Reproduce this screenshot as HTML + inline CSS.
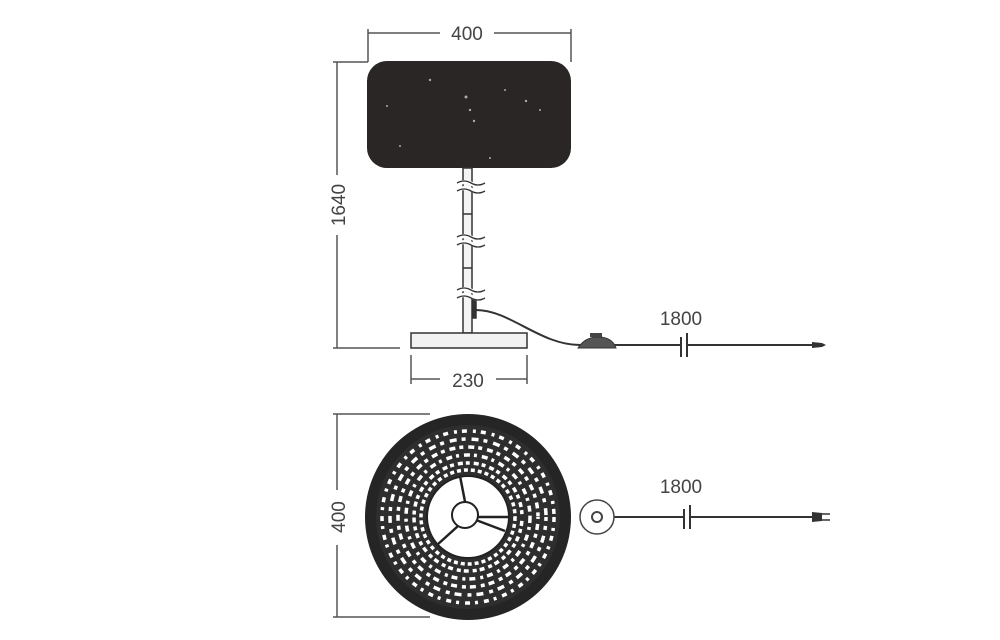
<!DOCTYPE html>
<html><head><style>html,body{margin:0;padding:0;background:#fff;width:1000px;height:640px;overflow:hidden}
text{font-family:"Liberation Sans",sans-serif;font-size:19px;fill:#444}</style></head>
<body>
<svg width="1000" height="640" viewBox="0 0 1000 640" xmlns="http://www.w3.org/2000/svg">
<g stroke="#555" stroke-width="1.5" fill="none">
<line x1="368" y1="29" x2="368" y2="62"/><line x1="571" y1="29" x2="571" y2="62"/>
<line x1="368" y1="33" x2="440" y2="33"/><line x1="494" y1="33" x2="571" y2="33"/>
<line x1="333" y1="62" x2="368" y2="62"/><line x1="333" y1="348" x2="400" y2="348"/>
<line x1="337" y1="62" x2="337" y2="175"/><line x1="337" y1="235" x2="337" y2="348"/>
<line x1="411" y1="355" x2="411" y2="384"/><line x1="527" y1="355" x2="527" y2="384"/>
<line x1="411" y1="379" x2="440" y2="379"/><line x1="496" y1="379" x2="527" y2="379"/>
<line x1="333" y1="414" x2="430" y2="414"/><line x1="333" y1="617" x2="430" y2="617"/>
<line x1="337" y1="414" x2="337" y2="490"/><line x1="337" y1="545" x2="337" y2="617"/>
</g>
<text x="467" y="40" text-anchor="middle">400</text>
<text x="468" y="387" text-anchor="middle">230</text>
<text transform="translate(345,205) rotate(-90)" text-anchor="middle">1640</text>
<text transform="translate(345,517) rotate(-90)" text-anchor="middle">400</text>
<text x="681" y="325" text-anchor="middle">1800</text>
<text x="681" y="493" text-anchor="middle">1800</text>
<rect x="367" y="61" width="204" height="107" rx="20" fill="#2a2625"/>
<g fill="#aaa"><circle cx="430" cy="80" r="1.2"/><circle cx="466" cy="97" r="1.5"/><circle cx="470" cy="110" r="1.2"/><circle cx="505" cy="90" r="1"/><circle cx="526" cy="101" r="1.2"/><circle cx="387" cy="106" r="1"/><circle cx="400" cy="146" r="1"/><circle cx="474" cy="121" r="1.2"/><circle cx="540" cy="110" r="1"/><circle cx="490" cy="158" r="1"/></g>
<g stroke="#333" stroke-width="1.5" fill="#f4f4f4">
<rect x="463" y="168" width="9" height="165"/>
<line x1="463" y1="214" x2="472" y2="214"/><line x1="463" y1="268" x2="472" y2="268"/>
<rect x="411" y="333" width="116" height="15" fill="#f2f2f2"/>
<rect x="473" y="300" width="3" height="18" fill="#333"/>
</g>
<g stroke="#fff" stroke-width="4" fill="none"><path d="M458 184q7-4 14 0t14 0"/><path d="M458 190q7-4 14 0t14 0"/><path d="M458 238q7-4 14 0t14 0"/><path d="M458 244q7-4 14 0t14 0"/><path d="M458 291q7-4 14 0t14 0"/><path d="M458 297q7-4 14 0t14 0"/></g>
<g stroke="#333" stroke-width="1.3" fill="none"><path d="M457 183q7-4 14 0t14 0"/><path d="M457 191q7-4 14 0t14 0"/><path d="M457 237q7-4 14 0t14 0"/><path d="M457 245q7-4 14 0t14 0"/><path d="M457 290q7-4 14 0t14 0"/><path d="M457 298q7-4 14 0t14 0"/></g>
<g stroke="#333" stroke-width="2" fill="none">
<path d="M476 310 C510 310 540 345 580 345"/>
<line x1="580" y1="345" x2="680" y2="345"/><line x1="688" y1="345" x2="815" y2="345"/>
<line x1="681" y1="337" x2="681" y2="357"/><line x1="687" y1="333" x2="687" y2="357"/>
<line x1="690" y1="505" x2="690" y2="529"/><line x1="684" y1="509" x2="684" y2="529"/>
<line x1="614" y1="517" x2="683" y2="517"/><line x1="691" y1="517" x2="815" y2="517"/>
</g>
<path d="M578 348 Q585 337 598 337 Q612 337 616 348 Z" fill="#555" stroke="#333"/>
<rect x="590" y="333" width="12" height="4" fill="#444"/>
<path d="M812 342 L822 343 L826 345 L822 347 L812 348 Z" fill="#333"/>
<path d="M812 512 L822 513 L822 521 L812 522 Z" fill="#333"/><line x1="822" y1="514" x2="830" y2="514" stroke="#333" stroke-width="1.5"/><line x1="822" y1="520" x2="830" y2="520" stroke="#333" stroke-width="1.5"/>
<circle cx="597" cy="517" r="17" fill="#fff" stroke="#444" stroke-width="1.5"/>
<circle cx="597" cy="517" r="5" fill="#fff" stroke="#444" stroke-width="2"/>
<circle cx="468" cy="517" r="103" fill="#252525"/>
<circle cx="468" cy="517" r="92" fill="#2e2e2e"/>
<g fill="none" stroke="#fff" stroke-width="3.5">
<circle cx="468" cy="517" r="86" stroke-dasharray="5 6 3 5"/>
<circle cx="468" cy="517" r="78" stroke-dasharray="7 5 4 6" stroke-dashoffset="3"/>
<circle cx="468" cy="517" r="70" stroke-dasharray="4 5 6 4" stroke-dashoffset="2"/>
<circle cx="468" cy="517" r="62" stroke-dasharray="6 4 3 5"/>
<circle cx="468" cy="517" r="54" stroke-dasharray="4 4 5 3" stroke-dashoffset="4"/>
<circle cx="468" cy="517" r="47" stroke-dasharray="4 3"/>
</g>
<circle cx="468" cy="517" r="41" fill="#fff" stroke="#222" stroke-width="2"/>
<g stroke="#222" stroke-width="2.5"><line x1="468" y1="517" x2="460" y2="476"/><line x1="468" y1="517" x2="437" y2="545"/><line x1="468" y1="517" x2="509" y2="517"/><line x1="468" y1="517" x2="505" y2="531"/></g>
<circle cx="465" cy="515" r="13" fill="#fff" stroke="#222" stroke-width="2"/>
</svg>
</body></html>
